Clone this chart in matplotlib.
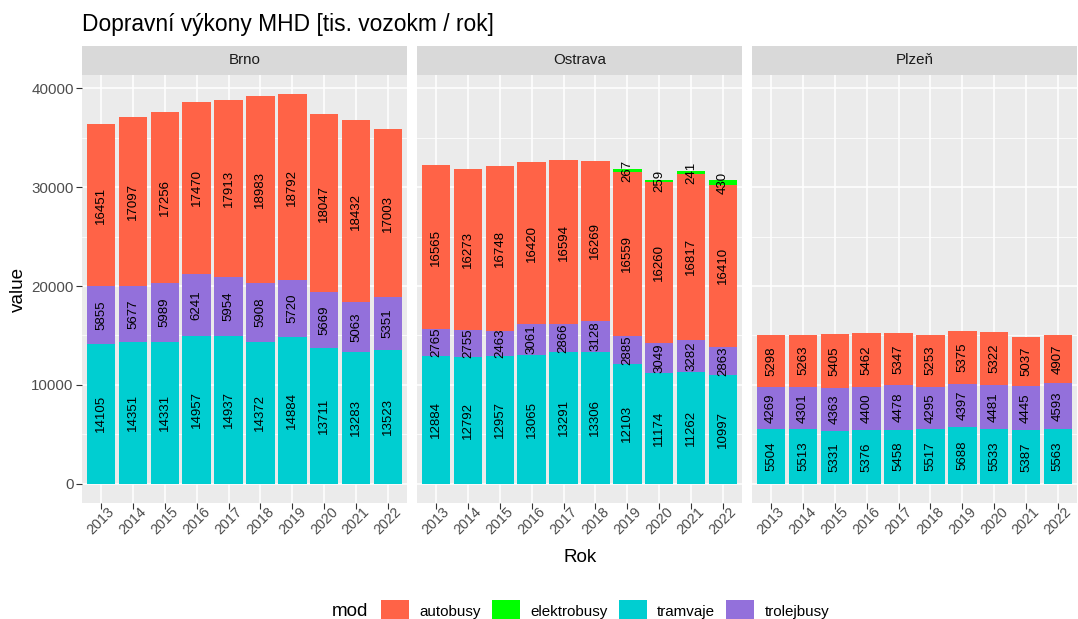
import matplotlib
matplotlib.use("Agg")
import matplotlib.pyplot as plt
import matplotlib.transforms as mtransforms
import numpy as np
from matplotlib.patches import Patch

plt.rcParams['font.family'] = ['Liberation Sans', 'DejaVu Sans']

#------------------------------------------------------------
# data
years = ["2013", "2014", "2015", "2016", "2017", "2018", "2019", "2020", "2021", "2022"]
cities = ["Brno", "Ostrava", "Plzeň"]

brno_tramvaje = [14105, 14351, 14331, 14957, 14937, 14372, 14884, 13711, 13283, 13523]
brno_trolejbusy = [5855, 5677, 5989, 6241, 5954, 5908, 5720, 5669, 5063, 5351]
brno_autobusy = [16451, 17097, 17256, 17470, 17913, 18983, 18792, 18047, 18432, 17003]
brno_elektrobusy = [None] * 10

ostrava_tramvaje = [12884, 12792, 12957, 13065, 13291, 13306, 12103, 11174, 11262, 10997]
ostrava_trolejbusy = [2765, 2755, 2463, 3061, 2866, 3128, 2885, 3049, 3282, 2863]
ostrava_autobusy = [16565, 16273, 16748, 16420, 16594, 16269, 16559, 16260, 16817, 16410]
ostrava_elektrobusy = [None, None, None, None, None, None, 267, 259, 241, 430]

plzen_tramvaje = [5504, 5513, 5331, 5376, 5458, 5517, 5688, 5533, 5387, 5563]
plzen_trolejbusy = [4269, 4301, 4363, 4400, 4478, 4295, 4397, 4481, 4445, 4593]
plzen_autobusy = [5298, 5263, 5405, 5462, 5347, 5253, 5375, 5322, 5037, 4907]
plzen_elektrobusy = [None] * 10

# poradi vrstev odspodu
stack_order = ["tramvaje", "trolejbusy", "autobusy", "elektrobusy"]
legend_order = ["autobusy", "elektrobusy", "tramvaje", "trolejbusy"]
colors = {
    "autobusy": "#FF6347",
    "elektrobusy": "#00FF00",
    "tramvaje": "#00CED1",
    "trolejbusy": "#9370DB",
}

data = {
    "Brno": {"tramvaje": brno_tramvaje, "trolejbusy": brno_trolejbusy,
             "autobusy": brno_autobusy, "elektrobusy": brno_elektrobusy},
    "Ostrava": {"tramvaje": ostrava_tramvaje, "trolejbusy": ostrava_trolejbusy,
                "autobusy": ostrava_autobusy, "elektrobusy": ostrava_elektrobusy},
    "Plzeň": {"tramvaje": plzen_tramvaje, "trolejbusy": plzen_trolejbusy,
              "autobusy": plzen_autobusy, "elektrobusy": plzen_elektrobusy},
}

#------------------------------------------------------------
# layout (px -> fraction)
W, H = 1078, 619
fig = plt.figure(figsize=(W / 100, H / 100), dpi=100)

def px_box(x0, y0, x1, y1):
    return [x0 / W, 1 - y1 / H, (x1 - x0) / W, (y1 - y0) / H]

panel_x = [(82, 407), (417, 742), (752, 1077)]
panel_top, panel_bottom = 75, 503
strip_top = 46

# y rozsah jako ggplot (5% expanze)
totals = []
for c in cities:
    t = np.zeros(len(years))
    for k in stack_order:
        t += np.array([v if v is not None else 0 for v in data[c][k]])
    totals.append(t.max())
ymax = max(totals)
ylim = (-0.05 * ymax, 1.05 * ymax)

x = np.arange(len(years))
shift = mtransforms.ScaledTranslation(3 / 100, 0, fig.dpi_scale_trans)

for i, city in enumerate(cities):
    x0, x1 = panel_x[i]
    ax = fig.add_axes(px_box(x0, panel_top, x1, panel_bottom))
    ax.set_facecolor("#EBEBEB")
    for s in ax.spines.values():
        s.set_visible(False)

    bottom = np.zeros(len(years))
    for key in stack_order:
        vals = data[city][key]
        v = np.array([val if val is not None else 0 for val in vals], dtype=float)
        ax.bar(x, v, width=0.9, bottom=bottom, color=colors[key], linewidth=0, zorder=3)
        for j, val in enumerate(vals):
            if val is not None:
                ax.text(x[j], bottom[j] + val / 2, str(val), rotation=90,
                        ha="center", va="center", fontsize=9.5, color="black", zorder=4)
        bottom += v

    ax.set_xlim(-0.6, len(years) - 0.4)
    ax.set_ylim(*ylim)

    ax.set_xticks(x)
    ax.set_xticklabels(years, rotation=45, ha="center", va="top")
    for lab in ax.get_xticklabels():
        lab.set_transform(lab.get_transform() + shift)
    ax.set_yticks([0, 10000, 20000, 30000, 40000])
    ax.set_yticks([5000, 15000, 25000, 35000], minor=True)
    ax.grid(which="major", color="white", linewidth=1.1, zorder=0)
    ax.grid(which="minor", axis="y", color="white", linewidth=0.55, zorder=0)
    ax.set_axisbelow(True)
    ax.tick_params(axis="both", which="major", length=4, width=0.8, color="#333333",
                   labelcolor="#4D4D4D", labelsize=10.9, pad=2)
    ax.tick_params(axis="x", which="major", labelsize=10.4, pad=-3)
    ax.tick_params(axis="both", which="minor", length=0)
    if i == 0:
        ax.set_yticklabels(["0", "10000", "20000", "30000", "40000"])
    else:
        ax.tick_params(axis="y", which="major", length=0, labelleft=False)

    # strip
    sax = fig.add_axes(px_box(x0, strip_top, x1, panel_top))
    sax.set_facecolor("#D9D9D9")
    sax.set_xticks([])
    sax.set_yticks([])
    for s in sax.spines.values():
        s.set_visible(False)
    sax.text(0.5, 0.5, city, ha="center", va="center", fontsize=10.9,
             color="#1A1A1A", transform=sax.transAxes)

# titulky
fig.text(82 / W, 1 - 25 / H, "Dopravní výkony MHD [tis. vozokm / rok]",
         fontsize=16.4, ha="left", va="center", color="black")
fig.text(18 / W, 1 - 289 / H, "value", rotation=90, fontsize=13.6,
         ha="center", va="center")
fig.text(580 / W, 1 - 557 / H, "Rok", fontsize=13.6, ha="center", va="center")

# legenda
handles = [Patch(facecolor=colors[k], edgecolor="none") for k in legend_order]
fig.legend(handles, legend_order, loc="center", bbox_to_anchor=(605 / W, 1 - 611 / H),
           ncol=4, frameon=False, fontsize=10.9, handlelength=1.87, handleheight=1.87,
           handletextpad=0.67, columnspacing=0.73, borderpad=0, borderaxespad=0)
fig.text(332 / W, 1 - 611 / H, "mod", fontsize=13.6, ha="left", va="center")

fig.savefig("out.png", dpi=100)
